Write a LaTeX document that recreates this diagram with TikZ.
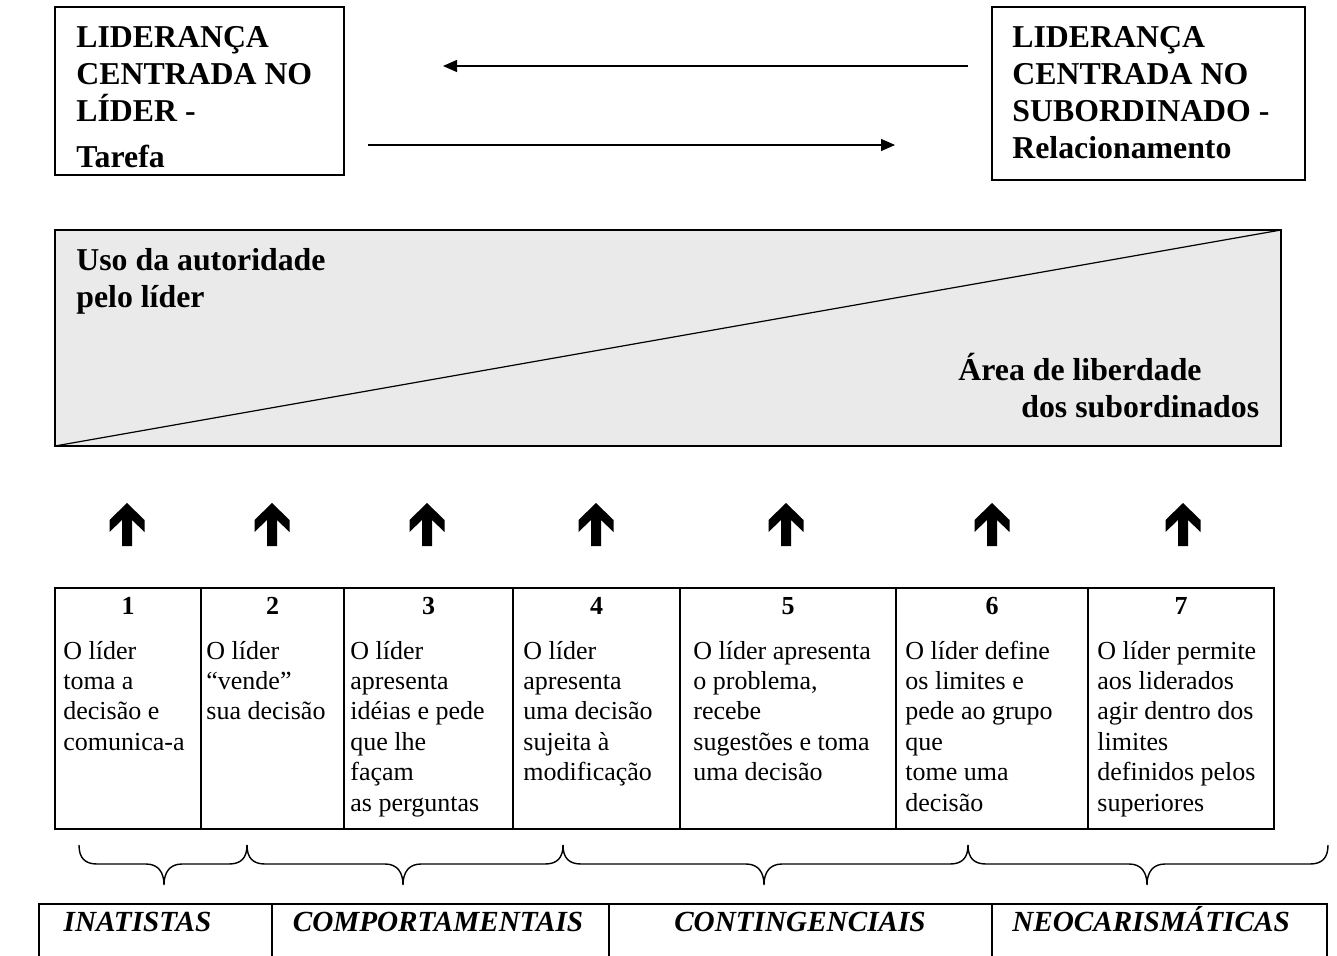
\documentclass[tikz,border=0pt]{standalone}
\usepackage{fontspec}
\setmainfont{Liberation Serif}
\usepackage{tikz}
\usetikzlibrary{arrows.meta,positioning}
\definecolor{areagray}{HTML}{EAEAEA}
\tikzset{
  leaderbox/.style={draw, line width=0.75pt},
  headtext/.style={anchor=base west, inner sep=0pt, align=left, font=\fontsize{15.9}{18.5}\selectfont\bfseries},
  stepnum/.style={anchor=base, inner sep=0pt, font=\fontsize{13}{15}\selectfont\bfseries},
  steptext/.style={anchor=base west, inner sep=0pt, align=left, font=\fontsize{13}{15.2}\selectfont},
  groupname/.style={anchor=base, inner sep=0pt, font=\fontsize{14.6}{16}\selectfont\bfseries\itshape},
  flowarrow/.style={-{Triangle[length=7pt,width=6pt]}, line width=0.65pt},
  groupbrace/.style={line width=0.7pt},
  tablerule/.style={line width=0.75pt}
}
\begin{document}
\begin{tikzpicture}[x=0.5pt, y=-0.5pt]
\useasboundingbox (0,0) rectangle (1337,956);
% leadership boxes (multi-line texts sit on the baseline of their last line)
\draw[leaderbox] (55,7) rectangle (344,175);
\draw[leaderbox] (992,7) rectangle (1305,180);
\node[headtext] (lider) at (76,122) {LIDERANÇA\\CENTRADA NO\\LÍDER -};
\node[headtext] (tarefa) at (76,168) {Tarefa};
\node[headtext] (subord) at (1012,159) {LIDERANÇA\\CENTRADA NO\\SUBORDINADO -\\Relacionamento};
\coordinate (backR) at (968,66);
\coordinate (backL) at (443,66);
\coordinate (fwdL) at (368,145);
\coordinate (fwdR) at (895,145);
\draw[flowarrow] (backR) -- (backL);
\draw[flowarrow] (fwdL) -- (fwdR);
% authority / freedom area
\coordinate (areaSW) at (55,446);
\coordinate (areaNE) at (1281,230);
\draw[line width=0.8pt, fill=areagray] (areaSW) rectangle (areaNE);
\draw[line width=0.6pt] (areaSW) -- (areaNE);
\node[headtext] (uso) at (76,308) {Uso da autoridade\\pelo líder};
\node[headtext] (area) at (958,381) {Área de liberdade};
\node[headtext] (dos) at (1021,418) {dos subordinados};
% block arrows
\foreach \ax in {127,272,427,596,786,992,1183}
  \fill[shift={(\ax,0)}] (0,503) -- (17.5,520) -- (17.5,532) -- (5,520) -- (5,546)
    -- (-5,546) -- (-5,520) -- (-17.5,532) -- (-17.5,520) -- cycle;
% continuum table
\draw[tablerule] (55,588) rectangle (1274,829);
\foreach \cx in {201,344,513,680,896,1088}
  \draw[tablerule] (\cx,588) -- (\cx,829);
\foreach \n/\cx in {1/128,2/272.5,3/428.5,4/596.5,5/788,6/992,7/1181}
  \node[stepnum] (num\n) at (\cx,614) {\n};
\node[steptext] (step1) at (63,750.2) {O líder\\toma a\\decisão e\\comunica-a};
\node[steptext] (step2) at (206,719.8) {O líder\\“vende”\\sua decisão};
\node[steptext] (step3) at (350,811) {O líder\\apresenta\\idéias e pede\\que lhe\\façam\\as perguntas};
\node[steptext] (step4) at (523,780.6) {O líder\\apresenta\\uma decisão\\sujeita à\\modificação};
\node[steptext] (step5) at (693,780.6) {O líder apresenta\\o problema,\\recebe\\sugestões e toma\\uma decisão};
\node[steptext] (step6) at (905,811) {O líder define\\os limites e\\pede ao grupo\\que\\tome uma\\decisão};
\node[steptext] (step7) at (1097,811) {O líder permite\\aos liderados\\agir dentro dos\\limites\\definidos pelos\\superiores};
% braces
\foreach \s/\m/\e in {79/164/247,247/403/563,563/764/968,968/1147/1328}
  \draw[groupbrace] (\s,845) .. controls (\s,858) and (\s+6,864) .. (\s+18,864)
    -- (\m-18,864) .. controls (\m-6,864) and (\m,872) .. (\m,885)
    .. controls (\m,872) and (\m+6,864) .. (\m+18,864)
    -- (\e-18,864) .. controls (\e-6,864) and (\e,858) .. (\e,845);
% theory groups
\draw[tablerule] (39,956) -- (39,904) -- (1327,904) -- (1327,956);
\foreach \cx in {272,609,992}
  \draw[tablerule] (\cx,904) -- (\cx,956);
\node[groupname] (inat) at (137.5,931) {INATISTAS};
\node[groupname] (comp) at (438,931) {COMPORTAMENTAIS};
\node[groupname] (cont) at (800,931) {CONTINGENCIAIS};
\node[groupname] (neo) at (1151,931) {NEOCARISMÁTICAS};
\end{tikzpicture}
\end{document}
